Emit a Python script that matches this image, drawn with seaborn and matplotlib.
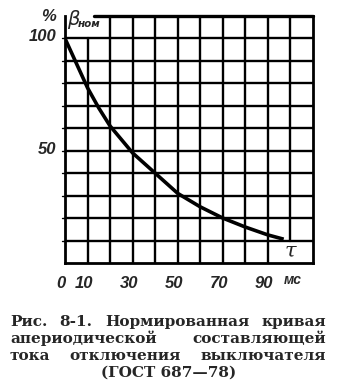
import matplotlib
matplotlib.use("Agg")
import matplotlib.pyplot as plt
from matplotlib.transforms import ScaledTranslation
import seaborn as sns
import pandas as pd

# ---- data ----
tau = [0, 5, 10, 15, 20, 25, 30, 40, 50, 60, 70, 80, 90, 97]
beta = [100, 89, 78, 69, 61, 55, 49, 40, 31, 25, 20, 16, 12.5, 10.6]
x_ticks = [0, 10, 30, 50, 70, 90]
x_tick_labels = ["0", "10", "30", "50", "70", "90"]
y_ticks = [50, 100]
y_tick_labels = ["50", "100"]
grid_steps = list(range(0, 111, 10))
caption_lines = [
    ["Рис.", "8-1.", "Нормированная", "кривая"],
    ["апериодической", "составляющей"],
    ["тока", "отключения", "выключателя"],
    ["(ГОСТ 687—78)"],
]

sns.set_theme(style="white")
plt.rcParams["font.family"] = ["DejaVu Sans"]

W, H = 338, 391
fig = plt.figure(figsize=(W / 100, H / 100), dpi=100)
fig.patch.set_facecolor("white")
ax = fig.add_axes([65 / W, 1 - 263 / H, 248 / W, 247 / H])
ax.set_facecolor("white")

df = pd.DataFrame({"tau": tau, "beta": beta})
sns.lineplot(data=df, x="tau", y="beta", ax=ax, color="black", lw=2.6,
             solid_capstyle="butt", zorder=5)

ax.set_xlim(0, 110)
ax.set_ylim(0, 110)

glw = 1.7
for v in grid_steps[1:-1]:
    if v == 10:
        ax.axvline(v, 0, 100 / 110, color="black", lw=glw)
    elif v == 100:
        ax.axvline(v, 10 / 110, 1, color="black", lw=glw)
    else:
        ax.axvline(v, 0, 1, color="black", lw=glw)
    ax.axhline(v, 0, 1, color="black", lw=glw)

for s in ["left", "right", "bottom"]:
    ax.spines[s].set_color("black")
    ax.spines[s].set_linewidth(2.0)
ax.spines["top"].set_visible(False)
ax.axhline(110, 13 / 110, 1, color="black", lw=2.4, clip_on=False)

lab_font = dict(family=["Liberation Sans Narrow", "Liberation Sans", "DejaVu Sans"],
                style="italic", weight="bold", size=12)

ax.set_xticks(x_ticks)
ax.set_xticklabels(x_tick_labels, **lab_font)
ax.set_yticks(y_ticks)
ax.set_yticklabels(y_tick_labels, **lab_font)
ax.tick_params(axis="x", length=0, pad=9)
ax.tick_params(axis="y", length=0, pad=6)
ax.set_xlabel("")
ax.set_ylabel("")
for lab in ax.get_xticklabels():
    lab.set_transform(lab.get_transform() + ScaledTranslation(-4 / 100, 0, fig.dpi_scale_trans))
for lab in ax.get_yticklabels():
    lab.set_transform(lab.get_transform() + ScaledTranslation(0, 3 / 100, fig.dpi_scale_trans))

for v in grid_steps[1:-1]:
    ax.plot([-1.4, 0], [v, v], color="black", lw=1.0, clip_on=False)

ax.text(101, -7.5, "мс", ha="center", va="center",
        family=["Liberation Sans", "DejaVu Sans"], style="italic", weight="bold", size=10)
ax.text(-7.5, 110, "%", ha="center", va="center",
        family=["Liberation Sans", "DejaVu Sans"], style="italic", weight="bold", size=12)
ax.text(1.0, 108.3, "β", ha="left", va="center",
        family=["DejaVu Sans"], style="italic", size=14)
ax.text(5.8, 106.3, "ном", ha="left", va="center",
        family=["DejaVu Sans"], style="italic", weight="bold", size=7.5)
ax.text(100, 5.3, "τ", ha="center", va="center",
        family=["DejaVu Serif"], style="italic", size=15)

# caption, justified between left and right edges
cap_font = dict(family=["DejaVu Serif"], weight="bold", size=11)
left, right = 10, 326
baselines = [326, 343, 360, 377]
renderer = fig.canvas.get_renderer()
for words, yb in zip(caption_lines, baselines):
    yf = 1 - yb / H
    if len(words) == 1:
        fig.text(169 / W, yf, words[0], ha="center", va="baseline", **cap_font)
        continue
    texts = [fig.text(0, yf, w, ha="left", va="baseline", **cap_font) for w in words]
    widths = [t.get_window_extent(renderer).width for t in texts]
    gap = (right - left - sum(widths)) / (len(words) - 1)
    x = left
    for t, w in zip(texts, widths):
        t.set_x(x / W)
        x += w + gap

fig.savefig("out.png", dpi=100, facecolor="white")
